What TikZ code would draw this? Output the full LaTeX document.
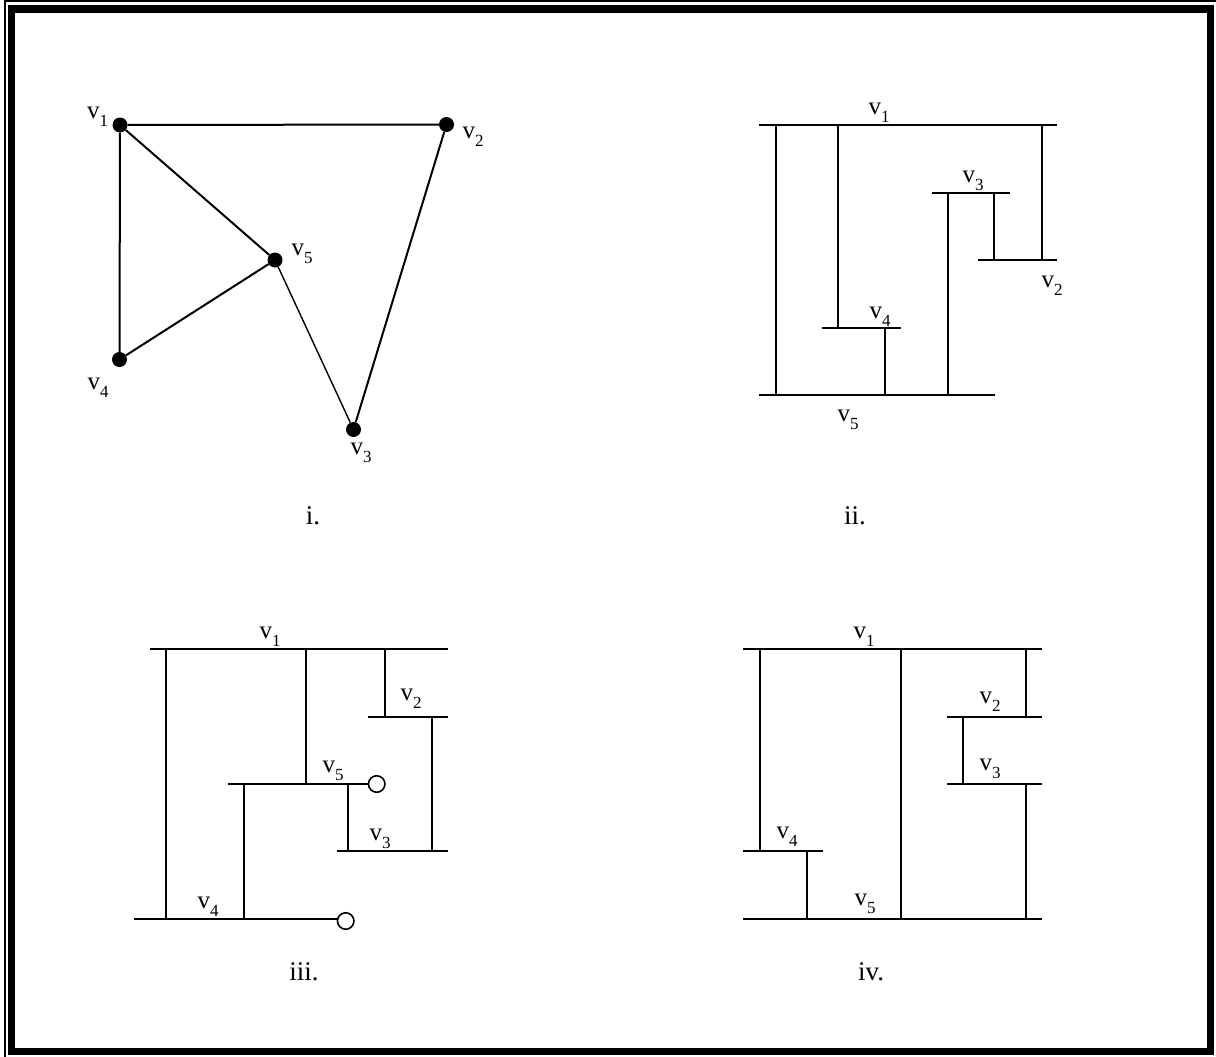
\documentclass[tikz,border=0pt]{standalone}
\usepackage{fontspec}
\setmainfont{Liberation Serif}
\newcommand\vlab[1]{v\raisebox{-8.4pt}{\fontsize{17}{17}\selectfont #1}}
\begin{document}
\begin{tikzpicture}[x=1pt,y=-1pt,
  dot/.style={circle,fill=black,draw=none,minimum size=15pt,inner sep=0pt},
  edge/.style={line width=2pt},
  thinedge/.style={line width=1.4pt},
  bar/.style={line width=2.2pt},
  ring/.style={circle,draw=black,line width=1.6pt,fill=white,minimum size=16.5pt,inner sep=0pt},
  lab/.style={inner sep=0pt,font=\fontsize{25}{25}\selectfont},
  captext/.style={inner sep=0pt,anchor=base,font=\fontsize{27}{27}\selectfont}]
\useasboundingbox (0,0) rectangle (1216,1057);
% frame
\draw[line width=2pt] (5,1057) -- (5,1) -- (1216,1);
\draw[line width=7.5pt] (11.5,9) rectangle (1210.5,1051.5);
% ---- diagram i
\node[dot] (a1) at (120,125) {};
\node[dot] (a2) at (446.5,124.5) {};
\node[dot] (a5) at (275,260) {};
\node[dot] (a4) at (119.5,359.5) {};
\node[dot] (a3) at (353.5,429.5) {};
\draw[edge] (a1) -- (a2);
\draw[edge] (a1) -- (a4);
\draw[edge] (a1) -- (a5);
\draw[edge] (a4) -- (a5);
\draw[thinedge] (a5) -- (a3);
\draw[edge] (a2) -- (a3);
\node[lab] (la1) at (97.5,117) {\vlab{1}};
\node[lab] (la2) at (473,137) {\vlab{2}};
\node[lab] (la5) at (302,254) {\vlab{5}};
\node[lab] (la4) at (98,388) {\vlab{4}};
\node[lab] (la3) at (361,453) {\vlab{3}};
\node[captext] (ci) at (313,524) {i.};
% ---- diagram ii
\draw[bar] (759.3,125) -- (1057.3,125);
\draw[bar] (931.7,193.3) -- (1010,193.3);
\draw[bar] (978.3,260) -- (1057.3,260);
\draw[bar] (821.7,327.7) -- (901,327.7);
\draw[bar] (759.3,395) -- (995,395);
\draw[bar] (775.7,125) -- (775.7,395);
\draw[bar] (837.7,125) -- (837.7,327.7);
\draw[bar] (1041.7,125) -- (1041.7,260);
\draw[bar] (948.3,193.3) -- (948.3,395);
\draw[bar] (994.3,193.3) -- (994.3,260);
\draw[bar] (885,327.7) -- (885,395);
\node[lab] (lb1) at (879,113) {\vlab{1}};
\node[lab] (lb3) at (973,181) {\vlab{3}};
\node[lab] (lb2) at (1052,286) {\vlab{2}};
\node[lab] (lb4) at (880,317) {\vlab{4}};
\node[lab] (lb5) at (848,420) {\vlab{5}};
\node[captext] (cii) at (855,524) {ii.};
% ---- diagram iii
\node[ring] (r5) at (376.7,784) {};
\node[ring] (r4) at (345.7,921) {};
\draw[bar] (150,649.3) -- (448.3,649.3);
\draw[bar] (368.3,716.7) -- (448.3,716.7);
\draw[bar] (228.3,784) -- (r5.west);
\draw[bar] (337.3,851) -- (448.3,851);
\draw[bar] (134,919) -- (r4.west|-0,919);
\draw[bar] (165.7,649.3) -- (165.7,919);
\draw[bar] (306,649.3) -- (306,784);
\draw[bar] (385,649.3) -- (385,716.7);
\draw[bar] (431.7,716.7) -- (431.7,851);
\draw[bar] (244,784) -- (244,919);
\draw[bar] (348.3,784) -- (348.3,851);
\node[lab] (lc1) at (270,637) {\vlab{1}};
\node[lab] (lc2) at (411,699) {\vlab{2}};
\node[lab] (lc5) at (333,771) {\vlab{5}};
\node[lab] (lc3) at (380,839) {\vlab{3}};
\node[lab] (lc4) at (208,907) {\vlab{4}};
\node[captext] (ciii) at (304,980) {iii.};
% ---- diagram iv
\draw[bar] (743.3,649.3) -- (1042.3,649.3);
\draw[bar] (947.3,716.7) -- (1042.3,716.7);
\draw[bar] (947.3,784) -- (1042.3,784);
\draw[bar] (743.3,851) -- (822.7,851);
\draw[bar] (743.3,919) -- (1042.3,919);
\draw[bar] (760,649.3) -- (760,851);
\draw[bar] (900.7,649.3) -- (900.7,919);
\draw[bar] (1025.7,649.3) -- (1025.7,716.7);
\draw[bar] (962.7,716.7) -- (962.7,784);
\draw[bar] (1025.7,784) -- (1025.7,919);
\draw[bar] (807.3,851) -- (807.3,919);
\node[lab] (ld1) at (864,637) {\vlab{1}};
\node[lab] (ld2) at (990,702) {\vlab{2}};
\node[lab] (ld3) at (990,769) {\vlab{3}};
\node[lab] (ld4) at (787,837) {\vlab{4}};
\node[lab] (ld5) at (865,904) {\vlab{5}};
\node[captext] (civ) at (871,980) {iv.};
\end{tikzpicture}
\end{document}
